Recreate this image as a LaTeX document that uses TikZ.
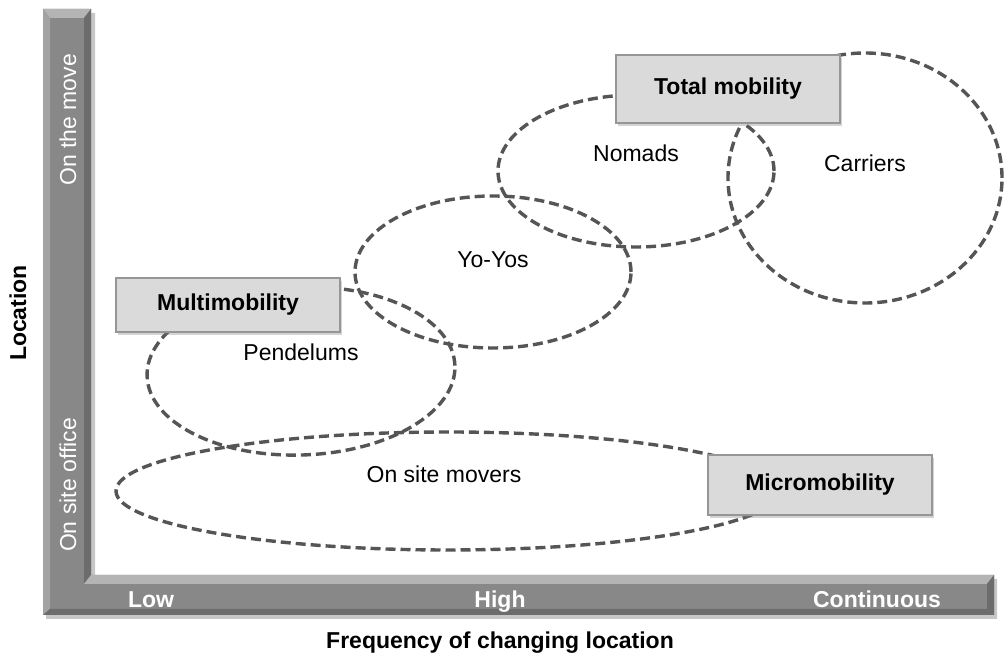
\documentclass[tikz,border=0pt]{standalone}
\usepackage{fontspec}
\setmainfont{Liberation Sans}
\usetikzlibrary{shapes.geometric,shadows}
\definecolor{dashgray}{RGB}{85,85,85}
\definecolor{barface}{RGB}{136,136,136}
\definecolor{barlight}{RGB}{180,180,180}
\definecolor{bardark}{RGB}{108,108,108}
\definecolor{boxfill}{RGB}{218,218,218}
\definecolor{boxline}{RGB}{150,150,150}
\tikzset{
  grp/.style={ellipse, draw=dashgray, line width=3.4pt, dash pattern=on 10pt off 5pt, inner sep=0pt},
  catbox/.style={draw=boxline, line width=1.5pt, fill=boxfill, minimum width=224pt, inner sep=0pt,
     font=\fontsize{23}{27}\selectfont\bfseries,
     drop shadow={opacity=0.35, shadow xshift=2pt, shadow yshift=-3pt}},
  grplabel/.style={font=\fontsize{23}{27}\selectfont, inner sep=0pt},
  axislabel/.style={font=\fontsize{23}{27}\selectfont, text=white, inner sep=0pt},
  ticklabel/.style={font=\fontsize{23}{27}\selectfont\bfseries, text=white, inner sep=0pt, anchor=base},
  title/.style={font=\fontsize{23}{27}\selectfont\bfseries, inner sep=0pt}
}
\begin{document}
\begin{tikzpicture}[x=1pt,y=1pt]
\useasboundingbox (0,0) rectangle (1004,666);
% axis bar shadow
\fill[black!22] (46,653) -- (95,653) -- (95,87) -- (997,87) -- (997,47) -- (46,47) -- cycle;
% axis bar
\fill[barface] (43,657) -- (91,657) -- (91,91) -- (994,91) -- (994,51) -- (43,51) -- cycle;
\fill[barlight] (43,657) -- (91,657) -- (84,648) -- (50,648) -- cycle;
\fill[barlight!60!barface] (43,657) -- (50,648) -- (50,57) -- (43,51) -- cycle;
\fill[bardark] (91,657) -- (91,91) -- (84,82) -- (84,648) -- cycle;
\fill[barlight] (91,91) -- (994,91) -- (987,82) -- (84,82) -- cycle;
\fill[bardark] (994,91) -- (994,51) -- (987,57) -- (987,82) -- cycle;
\fill[bardark] (43,51) -- (994,51) -- (987,57) -- (50,57) -- cycle;
% axis texts
\node[axislabel, rotate=90] (move) at (68,546) {On the move};
\node[axislabel, rotate=90] (office) at (68,181) {On site office};
\node[ticklabel] (low) at (151,58) {Low};
\node[ticklabel] (high) at (500,58) {High};
\node[ticklabel] (cont) at (877,58) {Continuous};
\node[title, rotate=90] (loc) at (18,353) {Location};
\node[title] (freq) at (500,23) {Frequency of changing location};
% groups
\node[grp, minimum width=274pt, minimum height=250pt] (carriers) at (865,488) {};
\node[grp, minimum width=276pt, minimum height=152pt] (nomads) at (636,495) {};
\node[grp, minimum width=276pt, minimum height=152pt] (yoyos) at (493,394) {};
\node[grp, minimum width=308pt, minimum height=168pt, rotate=2] (pend) at (301,295) {};
\node[grp, minimum width=664pt, minimum height=118pt] (onsite) at (448,175) {};
% group labels
\node[grplabel] (lnomads) at (636,513) {Nomads};
\node[grplabel] (lcarriers) at (865,503) {Carriers};
\node[grplabel] (lyoyos) at (493,406) {Yo-Yos};
\node[grplabel] (lpend) at (301,314) {Pendelums};
\node[grplabel] (lonsite) at (444,192) {On site movers};
% boxes
\node[catbox, minimum height=68pt] (total) at (728,577) {Total mobility};
\node[catbox, minimum height=54pt] (multi) at (228,361) {Multimobility};
\node[catbox, minimum height=60pt] (micro) at (820,181) {Micromobility};
\end{tikzpicture}
\end{document}
